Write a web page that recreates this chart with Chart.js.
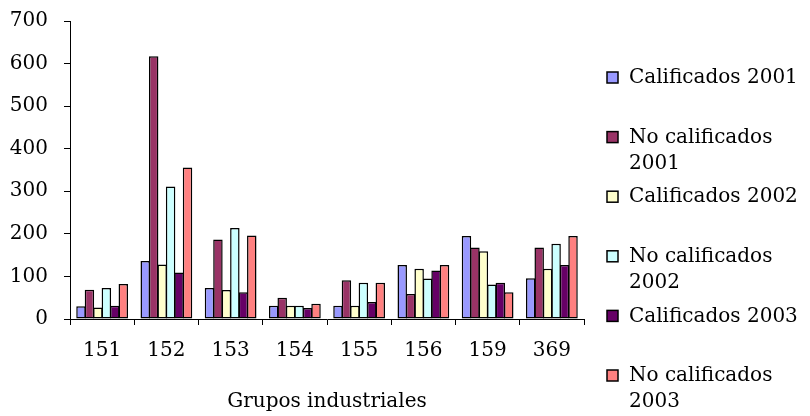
<!DOCTYPE html>
<html>
<head>
<meta charset="utf-8">
<script src="https://cdn.jsdelivr.net/npm/chart.js@4"></script>
<style>
  html, body { margin: 0; padding: 0; background: #fff; }
  #wrap { width: 810px; height: 416px; }
</style>
</head>
<body>
<div id="wrap"><canvas id="chart" width="810" height="416"></canvas></div>
<script>
const grupos = ['151', '152', '153', '154', '155', '156', '159', '369'];

const seriesNames = [
    'Calificados 2001',
    'No calificados 2001',
    'Calificados 2002',
    'No calificados 2002',
    'Calificados 2003',
    'No calificados 2003'
];

const calif2001   = [30, 136, 73, 31, 31, 127, 195, 96];
const noCalif2001 = [69, 617, 187, 50, 91, 59, 168, 168];
const calif2002   = [27, 128, 68, 31, 31, 118, 159, 118];
const noCalif2002 = [73, 311, 214, 31, 85, 95, 81, 177];
const calif2003   = [31, 109, 63, 26, 40, 114, 85, 127];
const noCalif2003 = [82, 356, 196, 36, 85, 127, 63, 195];

const colors = ['#9999ff', '#993366', '#ffffcc', '#ccffff', '#660066', '#ff8080'];

const serif = "'DejaVu Serif', serif";

const allSeries = [calif2001, noCalif2001, calif2002, noCalif2002, calif2003, noCalif2003];

// bars overlap a little so neighbours share one black edge
const datasets = allSeries.map((vals, i) => ({
    label: seriesNames[i],
    data: vals,
    backgroundColor: colors[i],
    borderColor: '#000',
    borderWidth: 1.5,
    borderSkipped: false,
    categoryPercentage: 0.79,
    barPercentage: 1.12
}));

// legend on the right, wrapped like the original
const sideLegend = {
    id: 'sideLegend',
    afterDraw(chart) {
        const ctx = chart.ctx;
        ctx.save();
        ctx.font = '20px ' + serif;
        ctx.textBaseline = 'middle';
        ctx.textAlign = 'left';
        const boxX = 607, textX = 629, maxW = 182;
        chart.data.datasets.forEach((ds, i) => {
            const y = 78 + i * 59.6;
            ctx.fillStyle = ds.backgroundColor;
            ctx.fillRect(boxX, y - 6, 11, 11);
            ctx.strokeStyle = '#000';
            ctx.lineWidth = 1.5;
            ctx.strokeRect(boxX, y - 6, 11, 11);
            ctx.fillStyle = '#000';
            let lines = [ds.label];
            if (ctx.measureText(ds.label).width > maxW) {
                const k = ds.label.lastIndexOf(' ');
                lines = [ds.label.slice(0, k), ds.label.slice(k + 1)];
            }
            lines.forEach((ln, j) => ctx.fillText(ln, textX, y + j * 26));
        });
        ctx.restore();
    }
};

const ctx = document.getElementById('chart');

new Chart(ctx, {
    type: 'bar',
    data: { labels: grupos, datasets: datasets },
    options: {
        responsive: false,
        animation: false,
        layout: { padding: { top: 21, right: 226, left: 0, bottom: 0 } },
        plugins: {
            legend: { display: false },
            tooltip: { enabled: false }
        },
        scales: {
            x: {
                grid: { display: true, drawOnChartArea: false, tickLength: 6, color: '#000', offset: true },
                border: { color: '#000', width: 1 },
                ticks: { color: '#000', font: { family: serif, size: 20 }, padding: 14 },
                title: {
                    display: true,
                    text: 'Grupos industriales',
                    color: '#000',
                    font: { family: serif, size: 20 },
                    padding: { top: 14, bottom: 2 }
                },
                afterFit(scale) { scale.height = 97; }
            },
            y: {
                min: 0,
                max: 700,
                grid: { display: true, drawOnChartArea: false, tickLength: 6, color: '#000' },
                border: { color: '#000', width: 1 },
                ticks: { stepSize: 100, color: '#000', font: { family: serif, size: 20 }, padding: 16 },
                afterFit(scale) {
                    scale.width = 70;
                    scale.paddingTop = 0;
                    scale.paddingBottom = 0;
                }
            }
        }
    },
    plugins: [sideLegend]
});
</script>
</body>
</html>
